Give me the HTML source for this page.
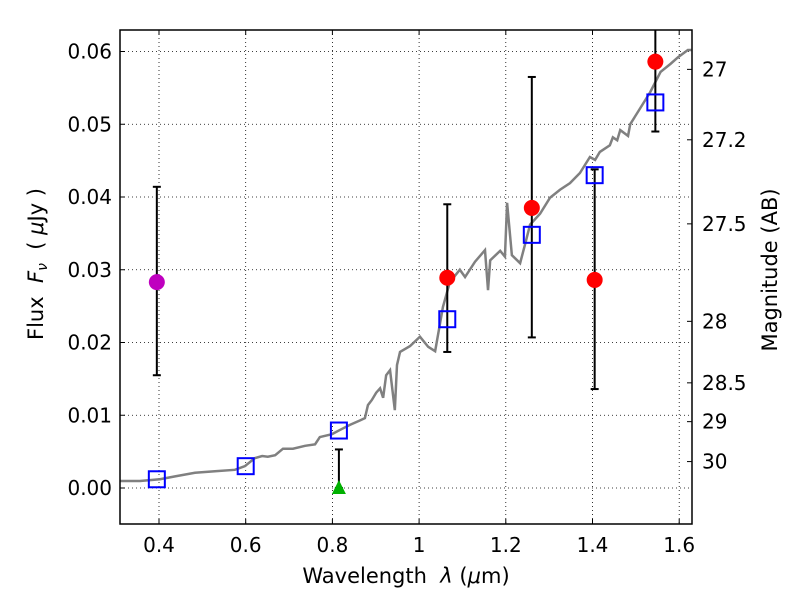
<!DOCTYPE html>
<html><head><meta charset="utf-8"><style>
body{margin:0;background:#fff}
svg text{font-family:"DejaVu Sans","Liberation Sans",sans-serif;fill:#000;white-space:pre}
</style></head><body>
<svg id="chart" width="800" height="600"></svg>
<script>
const xTicks=[0.4,0.6,0.8,1.0,1.2,1.4,1.6];
const xTickLabels=["0.4","0.6","0.8","1","1.2","1.4","1.6"];
const yTicks=[0,0.01,0.02,0.03,0.04,0.05,0.06];
const yTickLabels=["0.00","0.01","0.02","0.03","0.04","0.05","0.06"];
const magTicks=[27,27.2,27.5,28,28.5,29,30];
const magTickLabels=["27","27.2","27.5","28","28.5","29","30"];
const specW=[0.310,0.356,0.402,0.437,0.483,0.529,0.575,0.598,0.621,0.638,0.651,0.668,0.686,0.709,0.737,0.760,0.771,0.799,0.818,0.841,0.864,0.875,0.882,0.891,0.901,0.910,0.917,0.924,0.933,0.944,0.949,0.956,0.979,1.002,1.021,1.037,1.055,1.071,1.094,1.106,1.129,1.152,1.159,1.164,1.187,1.198,1.203,1.214,1.233,1.244,1.256,1.279,1.302,1.325,1.348,1.371,1.394,1.406,1.417,1.440,1.447,1.457,1.464,1.482,1.487,1.510,1.533,1.557,1.580,1.597,1.620,1.628];
const specF=[0.00096,0.00096,0.0012,0.0016,0.0021,0.0023,0.0025,0.0030,0.0041,0.0044,0.0043,0.0045,0.0054,0.0054,0.0058,0.0060,0.0070,0.0074,0.0080,0.0087,0.0093,0.0096,0.0114,0.0121,0.0131,0.0137,0.0124,0.0155,0.0162,0.0107,0.0169,0.0187,0.0195,0.0208,0.0194,0.0188,0.0249,0.0283,0.0300,0.0290,0.0311,0.0327,0.0272,0.0313,0.0326,0.0318,0.0392,0.0320,0.0309,0.0334,0.0362,0.0377,0.0399,0.0410,0.0419,0.0433,0.0455,0.0451,0.0462,0.0471,0.0482,0.0478,0.0492,0.0484,0.0500,0.0522,0.0544,0.0572,0.0583,0.0592,0.0602,0.0602];
const modelW=[0.395,0.600,0.815,1.065,1.260,1.405,1.545];
const modelF=[0.0012,0.0030,0.0079,0.0232,0.0348,0.0430,0.0530];
const obsW=[1.065,1.260,1.405,1.545];
const obsF=[0.0289,0.0385,0.0286,0.0586];
const obsLo=[0.0187,0.0207,0.0136,0.0490];
const obsHi=[0.0390,0.0565,0.0438,0.0700];
const purpleW=[0.395];const purpleF=[0.0283];const purpleLo=[0.0155];const purpleHi=[0.0414];
const limW=[0.815];const limF=[0.0000];const limHi=[0.0053];

const L=120,R=692,T=30,B=524;
const X=v=>159+(v-0.4)*433.5;
const Y=v=>488-v*7275;
const NS="http://www.w3.org/2000/svg";
const svg=document.getElementById('chart');
function mk(tag,attrs,parent){const e=document.createElementNS(NS,tag);for(const k in attrs)e.setAttribute(k,attrs[k]);(parent||svg).appendChild(e);return e;}
const defs=mk('defs',{});const cp=mk('clipPath',{id:'clip'},defs);mk('rect',{x:L,y:T,width:R-L,height:B-T},cp);
const grid=mk('g',{});


xTicks.forEach((v,i)=>{
 mk('line',{x1:X(v),x2:X(v),y1:T,y2:B,stroke:'#000','stroke-width':0.8,'stroke-dasharray':'1,3'},grid);
 mk('line',{x1:X(v),x2:X(v),y1:B,y2:B-5,stroke:'#000'});mk('line',{x1:X(v),x2:X(v),y1:T,y2:T+5,stroke:'#000'});
 const t=mk('text',{x:X(v),y:B+28,'text-anchor':'middle','font-size':20});t.textContent=xTickLabels[i];
 
 
});
yTicks.forEach((v,i)=>{
 mk('line',{x1:L,x2:R,y1:Y(v),y2:Y(v),stroke:'#000','stroke-width':0.8,'stroke-dasharray':'1,3'},grid);
 mk('line',{x1:L,x2:L+5,y1:Y(v),y2:Y(v),stroke:'#000'});
 const t=mk('text',{x:L-8,y:Y(v)+7,'text-anchor':'end','font-size':20});t.textContent=yTickLabels[i];
 
 
});
magTicks.forEach((m,i)=>{
 const y=Y(Math.pow(10,(23.9-m)/2.5));
 mk('line',{x1:R,x2:R-5,y1:y,y2:y,stroke:'#000'});
 const t=mk('text',{x:R+10,y:y+7,'font-size':20});t.textContent=magTickLabels[i];
 
 
});
const g=mk('g',{'clip-path':'url(#clip)'});
const sp=mk('polyline',{points:specW.map((w,i)=>X(w)+','+Y(specF[i])).join(' '),fill:'none',stroke:'#808080','stroke-width':2.5},g);


function err(x,lo,hi){mk('line',{x1:X(x),x2:X(x),y1:Y(lo),y2:Y(hi),stroke:'#000','stroke-width':2},g);[lo,hi].forEach(v=>mk('line',{x1:X(x)-4,x2:X(x)+4,y1:Y(v),y2:Y(v),stroke:'#000','stroke-width':2},g));}
purpleW.forEach((w,i)=>{err(w,purpleLo[i],purpleHi[i]);const c=mk('circle',{cx:X(w),cy:Y(purpleF[i]),r:8,fill:'#bf00bf'},g);
 
 });
obsW.forEach((w,i)=>err(w,obsLo[i],obsHi[i]));
limW.forEach((w,i)=>{err(w,limF[i],limHi[i]);const x=X(w),y=Y(limF[i]);const p=mk('polygon',{points:`${x},${y-8} ${x-7},${y+6} ${x+7},${y+6}`,fill:'#00b000'},g);
 
 });
modelW.forEach((w,i)=>{const r=mk('rect',{x:X(w)-8,y:Y(modelF[i])-8,width:16,height:16,fill:'none',stroke:'#0000ff','stroke-width':2},g);
 
 });
obsW.forEach((w,i)=>{const c=mk('circle',{cx:X(w),cy:Y(obsF[i]),r:8,fill:'#ff0000'},g);
 
 });
const fr=mk('rect',{x:L,y:T,width:R-L,height:B-T,fill:'none',stroke:'#000','stroke-width':1.5});


const xl=mk('text',{x:406,y:583,'text-anchor':'middle','font-size':21});xl.innerHTML='Wavelength  <tspan font-style="italic">λ</tspan> (<tspan font-style="italic">μ</tspan>m)';


const yl=mk('text',{transform:'translate(43,264) rotate(-90)','text-anchor':'middle','font-size':21});yl.innerHTML='Flux  <tspan font-style="italic">F</tspan><tspan font-style="italic" font-size="14" dy="4">ν</tspan><tspan dy="-4">  ( </tspan><tspan font-style="italic">μ</tspan>Jy )';


const rl=mk('text',{transform:'translate(777,270) rotate(-90)','text-anchor':'middle','font-size':21});rl.textContent='Magnitude (AB)';


</script>
</body></html>
